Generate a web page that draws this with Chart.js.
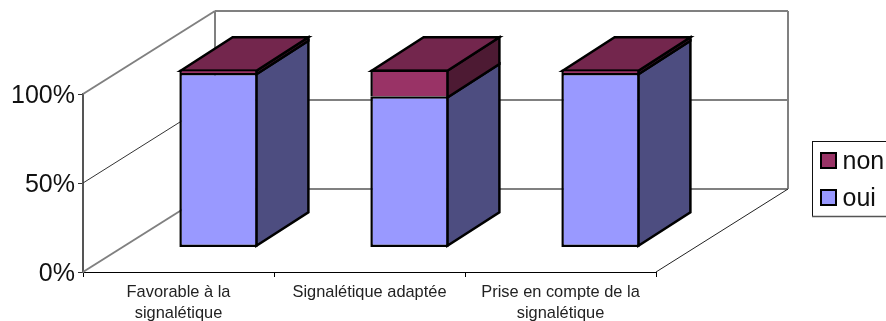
<!DOCTYPE html>
<html>
<head>
<meta charset="utf-8">
<style>
  html, body { margin: 0; padding: 0; background: #fff; overflow: hidden; }
  canvas { display: block; }
</style>
<script src="https://cdn.jsdelivr.net/npm/chart.js@4/dist/chart.umd.min.js"></script>
</head>
<body>
<canvas id="chart" width="886" height="321"></canvas>
<script>
const categories = [
  ['Favorable à la', 'signalétique'],
  'Signalétique adaptée',
  ['Prise en compte de la', 'signalétique']
];
const ouiValues = [98, 85, 98];
const nonValues = [2, 15, 2];
const yTicks = [0, 50, 100];

// Oblique projection of the 3D box
const WALL_DX = 132, WALL_DY = -83;     // front plane to back wall
const BAR_DX = 40, BAR_DY = -24.5;      // front plane to bar front face
const BOX_DX = 52, BOX_DY = -33.5;      // bar front face to bar back face
const BAR_LINE = 2.5;
const GREY = '#808080';

function poly(ctx, pts, fill) {
  ctx.beginPath();
  pts.forEach((p, i) => i ? ctx.lineTo(p[0], p[1]) : ctx.moveTo(p[0], p[1]));
  ctx.closePath();
  if (fill) { ctx.fillStyle = fill; ctx.fill(); }
  ctx.stroke();
}

function seg(ctx, x1, y1, x2, y2, color, width) {
  ctx.strokeStyle = color;
  ctx.lineWidth = width;
  ctx.beginPath();
  ctx.moveTo(x1, y1);
  ctx.lineTo(x2, y2);
  ctx.stroke();
}

// Legend swatch, placed a little above the middle of its text line
function swatch(color) {
  const c = document.createElement('canvas');
  c.width = 19; c.height = 21;
  const g = c.getContext('2d');
  g.fillStyle = color;
  g.strokeStyle = '#000';
  g.lineWidth = 2;
  g.fillRect(1, 1, 15, 15);
  g.strokeRect(1, 1, 15, 15);
  return c;
}

const box3d = {
  id: 'box3d',
  afterLayout(chart) {
    // Legend sits in the right margin and runs past the canvas edge
    const l = chart.legend;
    const w = l.width, h = l.height;
    l.left = 817; l.top = 138; l.right = l.left + w; l.bottom = l.top + h;
  },
  beforeDatasetsDraw(chart) {
    const { ctx, chartArea: a, scales: { y } } = chart;
    ctx.save();
    // Floor, side wall and back wall
    yTicks.forEach(t => {
      const py = y.getPixelForValue(t);
      const thin = t === 50;
      seg(ctx, a.left, py, a.left + WALL_DX, py + WALL_DY, thin ? '#333' : GREY, thin ? 1 : 2);
      seg(ctx, a.left + WALL_DX, py + WALL_DY, a.right + WALL_DX, py + WALL_DY, GREY, 2);
    });
    seg(ctx, a.left + WALL_DX, a.top + WALL_DY, a.left + WALL_DX, a.bottom + WALL_DY, GREY, 2);
    seg(ctx, a.right + WALL_DX, a.top + WALL_DY, a.right + WALL_DX, a.bottom + WALL_DY, GREY, 2);
    seg(ctx, a.right, a.bottom, a.right + WALL_DX, a.bottom + WALL_DY, '#222', 1);

    // Right side and top faces of every stacked segment
    ctx.strokeStyle = '#000';
    ctx.lineWidth = BAR_LINE;
    ctx.lineJoin = 'miter';
    const last = chart.data.datasets.length - 1;
    chart.data.datasets.forEach((ds, i) => {
      chart.getDatasetMeta(i).data.forEach(bar => {
        const inset = BAR_LINE / 2;
        const right = bar.x + bar.width / 2 + BAR_DX - inset;
        const left = bar.x - bar.width / 2 + BAR_DX + inset;
        const top = bar.y + BAR_DY + inset;
        const bottom = bar.base + BAR_DY + (i === 0 ? -inset : inset);
        poly(ctx, [[right, top], [right + BOX_DX, top + BOX_DY],
                   [right + BOX_DX, bottom + BOX_DY], [right, bottom]], ds.sideColor);
        if (i === last) {
          poly(ctx, [[left, top], [left + BOX_DX, top + BOX_DY],
                     [right + BOX_DX, top + BOX_DY], [right, top]], ds.topColor);
        }
      });
    });
    ctx.restore();
  },
  beforeDatasetDraw(chart) {
    // Front faces stand behind the front plane of the box
    chart.ctx.save();
    chart.ctx.translate(BAR_DX, BAR_DY);
  },
  afterDatasetDraw(chart) {
    chart.ctx.restore();
  },
  afterDraw(chart) {
    // Frame around the legend: dark top and left, grey bottom
    const { ctx } = chart;
    ctx.save();
    seg(ctx, 812.5, 141.5, 886, 141.5, '#111', 1);
    seg(ctx, 812.5, 141, 812.5, 217, '#111', 1);
    seg(ctx, 812, 216.5, 886, 216.5, '#555', 1.5);
    ctx.restore();
  }
};

new Chart(document.getElementById('chart'), {
  type: 'bar',
  data: {
    labels: categories,
    datasets: [
      { label: 'oui', data: ouiValues, backgroundColor: '#9999FF', sideColor: '#4D4D80', topColor: '#7373BF',
        borderColor: '#000', borderWidth: BAR_LINE, borderSkipped: false, clip: false },
      { label: 'non', data: nonValues, backgroundColor: '#993366', sideColor: '#4D1A33', topColor: '#73264D',
        borderColor: '#000', borderWidth: { top: BAR_LINE, left: BAR_LINE, right: BAR_LINE, bottom: 0 },
        borderSkipped: false, clip: false }
    ]
  },
  options: {
    responsive: false,
    animation: false,
    layout: { padding: { left: 0, top: 94, right: 230, bottom: 0 } },
    barPercentage: 0.41,
    categoryPercentage: 1,
    scales: {
      x: {
        stacked: true,
        afterFit(s) { s.height = 49; },
        grid: { drawOnChartArea: false, offset: true, color: '#000', tickLength: 5, tickColor: '#000' },
        border: { color: '#000', width: 1 },
        ticks: { color: '#222', font: { family: 'Liberation Sans', size: 16.4, lineHeight: 1.3 },
                 maxRotation: 0, autoSkip: false, padding: 5 }
      },
      y: {
        stacked: true,
        min: 0, max: 100,
        afterFit(s) { s.width = 83; },
        afterBuildTicks(s) { s.ticks = yTicks.map(value => ({ value })); },
        grid: { drawOnChartArea: false, color: '#333', tickLength: 5 },
        border: { color: '#555', width: 2 },
        ticks: { color: '#111', font: { family: 'Liberation Sans', size: 25 }, padding: 3, labelOffset: 2,
                 callback: v => v + '%' }
      }
    },
    plugins: {
      tooltip: { enabled: false },
      legend: {
        position: 'chartArea',
        align: 'start',
        reverse: true,
        labels: {
          color: '#111',
          font: { family: 'Liberation Sans', size: 25 },
          usePointStyle: true,
          boxWidth: 1, boxHeight: 16, padding: 12,
          generateLabels(chart) {
            return Chart.defaults.plugins.legend.labels.generateLabels(chart)
              .map(item => ({ ...item, pointStyle: swatch(chart.data.datasets[item.datasetIndex].backgroundColor) }));
          }
        }
      }
    }
  },
  plugins: [box3d]
});
</script>
</body>
</html>
